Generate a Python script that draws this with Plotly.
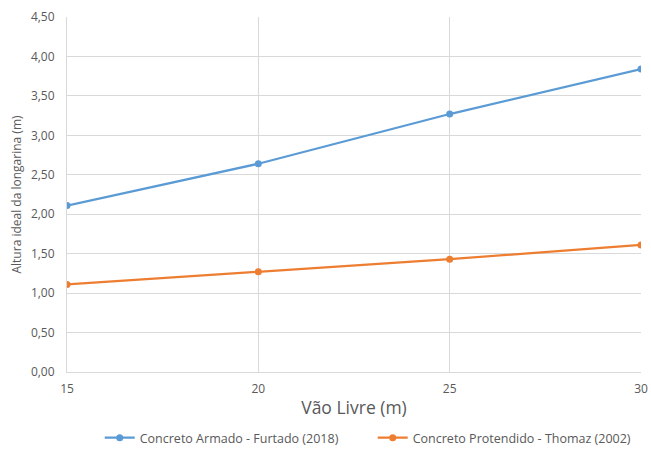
import plotly.graph_objects as go

vao_livre = [15, 20, 25, 30]
armado = [2.11, 2.64, 3.27, 3.84]
protendido = [1.11, 1.27, 1.43, 1.61]

y_ticks = [0, 0.5, 1, 1.5, 2, 2.5, 3, 3.5, 4, 4.5]
y_tick_text = [f"{v:.2f}".replace(".", ",") for v in y_ticks]

font_family = "Open Sans, Liberation Sans, Arial, sans-serif"
grey_text = "#595959"
grid = "#d9d9d9"

fig = go.Figure()
fig.add_trace(go.Scatter(
    x=vao_livre, y=armado, mode="lines+markers",
    name="Concreto Armado - Furtado (2018)",
    line=dict(color="#5B9BD5", width=2.25),
    marker=dict(size=7, color="#5B9BD5"),
))
fig.add_trace(go.Scatter(
    x=vao_livre, y=protendido, mode="lines+markers",
    name="Concreto Protendido - Thomaz (2002)",
    line=dict(color="#ED7D31", width=2.25),
    marker=dict(size=7, color="#ED7D31"),
))

fig.update_layout(
    width=651, height=452,
    margin=dict(l=67, r=10, t=17, b=80, autoexpand=False),
    paper_bgcolor="white", plot_bgcolor="white",
    font=dict(family=font_family, size=12, color=grey_text),
    showlegend=True,
    legend=dict(
        orientation="h",
        x=0.057, xanchor="left",
        y=-0.186, yanchor="middle",
        font=dict(size=12.5, color=grey_text),
        itemwidth=30, tracegroupgap=0,
        entrywidth=228, entrywidthmode="pixels",
    ),
    xaxis=dict(
        range=[15, 30], tickvals=vao_livre,
        showgrid=True, gridcolor=grid, gridwidth=1,
        showline=True, linecolor=grid, mirror=False,
        zeroline=False, ticks="", ticklabelstandoff=6,
        title=dict(text="Vão Livre (m)", font=dict(size=17.5, color=grey_text), standoff=5),
    ),
    yaxis=dict(
        range=[0, 4.5], tickvals=y_ticks, ticktext=y_tick_text,
        showgrid=True, gridcolor=grid, gridwidth=1,
        showline=True, linecolor=grid,
        zeroline=False, ticks="", ticklabelstandoff=9,
        title=dict(text="Altura ideal da longarina (m)", font=dict(size=12, color=grey_text), standoff=6),
    ),
)

fig.write_html("out.html")
